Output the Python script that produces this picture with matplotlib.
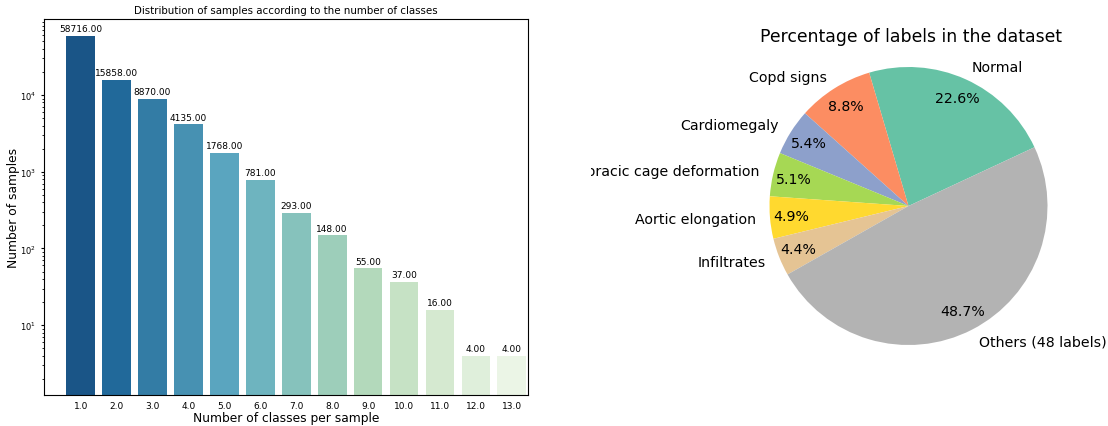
import matplotlib
matplotlib.use('Agg')
import matplotlib.pyplot as plt
from matplotlib.transforms import Bbox, TransformedBbox
import seaborn as sns

# samples per number of classes
n_classes = [1.0, 2.0, 3.0, 4.0, 5.0, 6.0, 7.0, 8.0, 9.0, 10.0, 11.0, 12.0, 13.0]
n_samples = [58716, 15858, 8870, 4135, 1768, 781, 293, 148, 55, 37, 16, 4, 4]

# share of labels in the dataset (percent)
pie_labels = ['Normal', 'Copd signs', 'Cardiomegaly', 'Thoracic cage deformation',
              'Aortic elongation', 'Infiltrates', 'Others (48 labels)']
pie_values = [22.6, 8.8, 5.4, 5.1, 4.9, 4.4, 48.7]

W, H = 1108, 427
fig = plt.figure(figsize=(W / 100, H / 100), dpi=100)

# --- bar chart (log scale) ---
ax1 = fig.add_axes([44 / W, 1 - 396 / H, (528 - 44) / W, (396 - 20) / H])
colors = sns.color_palette('GnBu_r', len(n_classes), desat=0.75)
bars = ax1.bar(n_classes, n_samples, width=0.8, color=colors)
ax1.set_yscale('log')
ax1.set_ylim(1.23, 9.8e4)
ax1.set_xlim(-0.02, 13.45)
ax1.set_xticks(n_classes)
ax1.set_xticklabels(['%.1f' % c for c in n_classes])
ax1.tick_params(axis='x', which='major', labelsize=6.5, length=0, pad=4.3)
ax1.tick_params(axis='y', which='major', labelsize=6, length=2.5, pad=3)
ax1.tick_params(axis='y', which='minor', length=1.5)
ax1.bar_label(bars, fmt='%.2f', padding=2, fontsize=6.5)
ax1.set_title('Distribution of samples according to the number of classes',
              fontsize=7.4, pad=4)
ax1.set_xlabel('Number of classes per sample', fontsize=8.8, labelpad=1)
ax1.set_ylabel('Number of samples', fontsize=8.8)
ax1.yaxis.set_label_coords(-0.05, 0.5)

# --- pie chart ---
cx, cy, r = 908.5, 207, 139
ax2 = fig.add_axes([(cx - r) / W, 1 - (cy + r) / H, 2 * r / W, 2 * r / H])
pie_colors = sns.color_palette('Set2', 8)
pie_colors = [pie_colors[i] for i in (0, 1, 2, 4, 5, 6, 7)]
wedges, texts, autotexts = ax2.pie(pie_values, labels=pie_labels, colors=pie_colors,
                                   autopct='%1.1f%%', startangle=25, pctdistance=0.85,
                                   labeldistance=1.1, textprops={'fontsize': 10.2})
ax2.set_xlim(-1, 1)
ax2.set_ylim(-1, 1)
ax2.set_aspect('equal')
fig.text(cx / W + 2 / W, 1 - 37 / H, 'Percentage of labels in the dataset',
         ha='center', va='center', fontsize=12.4)

clip = TransformedBbox(Bbox([[591 / W, 0], [1, 1]]), fig.transFigure)
for t in texts:
    t.set_clip_box(clip)
    t.set_clip_on(True)

fig.savefig('out.png', dpi=100, facecolor='w')
